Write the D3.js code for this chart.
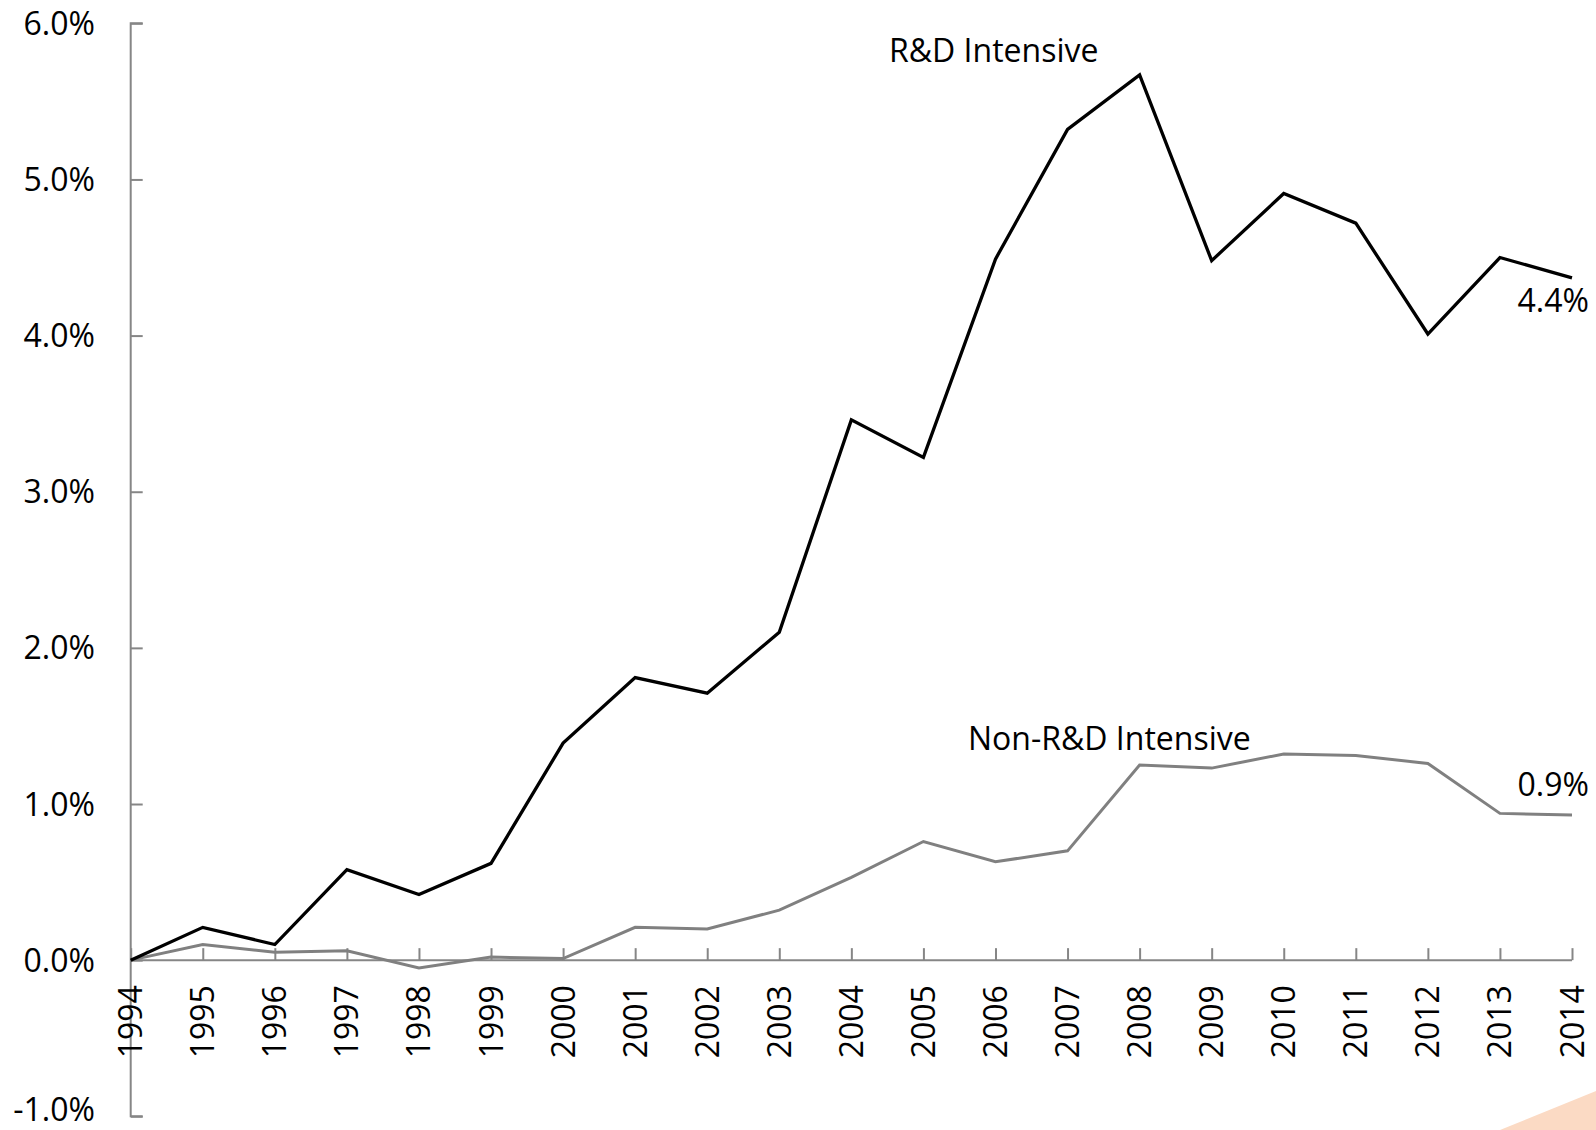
<!DOCTYPE html>
<html>
<head>
<meta charset="utf-8">
<script src="https://cdn.jsdelivr.net/npm/d3@7"></script>
<style>
  html, body { margin: 0; padding: 0; background: #fff; }
  svg { display: block; font-family: "Open Sans", Lato, sans-serif; }
</style>
</head>
<body>
<svg id="chart" width="1596" height="1130"></svg>
<script>
// Share of value (%) by year
const years = [1994, 1995, 1996, 1997, 1998, 1999, 2000, 2001, 2002, 2003, 2004,
               2005, 2006, 2007, 2008, 2009, 2010, 2011, 2012, 2013, 2014];
const rdIntensive = [0.00, 0.21, 0.10, 0.58, 0.42, 0.62, 1.39, 1.81, 1.71, 2.10, 3.46,
                     3.22, 4.49, 5.32, 5.67, 4.48, 4.91, 4.72, 4.01, 4.50, 4.37];
const nonRdIntensive = [0.00, 0.10, 0.05, 0.06, -0.05, 0.02, 0.01, 0.21, 0.20, 0.32, 0.53,
                        0.76, 0.63, 0.70, 1.25, 1.23, 1.32, 1.31, 1.26, 0.94, 0.93];
const yTicks = [-1, 0, 1, 2, 3, 4, 5, 6];
const seriesNames = ["R&D Intensive", "Non-R&D Intensive"];

const svg = d3.select("#chart");

const x = d3.scaleLinear().domain([1994, 2014]).range([130.7, 1572]);
const y = d3.scaleLinear().domain([-1, 6]).range([1116.3, 23.3]);

const axisColor = "#868686";
const fontSize = 32;
// percent with a plain hyphen for negatives
const pct = v => (v < 0 ? "-" : "") + Math.abs(v).toFixed(1) + "%";

// decorative corner wedge
svg.append("path")
  .attr("d", "M1500,1130 L1596,1091 L1596,1130 Z")
  .attr("fill", "#fbdac4");

// y axis
const yAxis = svg.append("g").attr("transform", `translate(${x(1994)},0)`)
  .call(d3.axisRight(y).tickValues(yTicks).tickSize(12).tickFormat(""));
yAxis.select(".domain").attr("stroke", axisColor).attr("stroke-width", 2)
  .attr("d", `M12,${y(6)}H0V${y(-1)}H12`);
yAxis.selectAll(".tick line").attr("stroke", axisColor).attr("stroke-width", 2);

svg.append("g").selectAll("text").data(yTicks).join("text")
  .attr("x", 95)
  .attr("y", d => y(d))
  .attr("dy", d => d < 0 ? "0.15em" : "0.36em")
  .attr("text-anchor", "end")
  .attr("font-size", fontSize)
  .attr("fill", "#000")
  .text(pct);

// x axis along zero
const xAxis = svg.append("g").attr("transform", `translate(0,${y(0)})`)
  .call(d3.axisTop(x).tickValues(years).tickSize(12).tickFormat(""));
xAxis.select(".domain").attr("stroke", axisColor).attr("stroke-width", 2)
  .attr("d", `M${x(1994)},0H${x(2014)}`);
xAxis.selectAll(".tick line").attr("stroke", axisColor).attr("stroke-width", 2);

svg.append("g").selectAll("text").data(years).join("text")
  .attr("transform", d => `translate(${x(d)},${y(0) + 25}) rotate(-90)`)
  .attr("dy", "0.36em")
  .attr("text-anchor", "end")
  .attr("font-size", fontSize)
  .attr("fill", "#000")
  .text(d => d);

// series lines
const line = d3.line().x((d, i) => x(years[i])).y(d => y(d));

svg.append("path").datum(nonRdIntensive)
  .attr("d", line)
  .attr("fill", "none")
  .attr("stroke", "#808080")
  .attr("stroke-width", 3)
  .attr("stroke-linejoin", "miter");

svg.append("path").datum(rdIntensive)
  .attr("d", line)
  .attr("fill", "none")
  .attr("stroke", "#000")
  .attr("stroke-width", 3.3)
  .attr("stroke-linejoin", "miter");

// series names
svg.append("text")
  .attr("x", 889).attr("y", 50).attr("dy", "0.36em")
  .attr("font-size", fontSize).text(seriesNames[0]);
svg.append("text")
  .attr("x", 968).attr("y", 738).attr("dy", "0.36em")
  .attr("font-size", fontSize).text(seriesNames[1]);

// end values
const last = years.length - 1;
svg.append("text")
  .attr("x", 1589).attr("y", 300).attr("dy", "0.36em")
  .attr("text-anchor", "end")
  .attr("font-size", fontSize)
  .text(pct(rdIntensive[last]));
svg.append("text")
  .attr("x", 1589).attr("y", 784).attr("dy", "0.36em")
  .attr("text-anchor", "end")
  .attr("font-size", fontSize)
  .text(pct(nonRdIntensive[last]));
</script>
</body>
</html>
